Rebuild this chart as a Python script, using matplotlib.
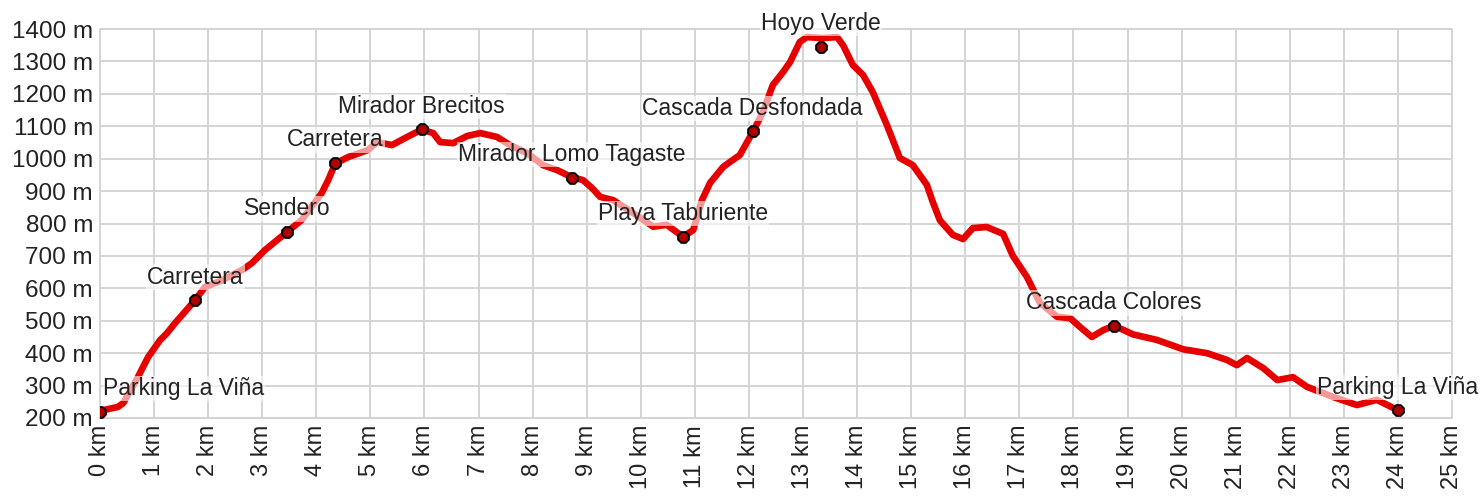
import matplotlib
matplotlib.use("Agg")
import matplotlib.pyplot as plt

plt.rcParams['font.family'] = ['Liberation Sans', 'DejaVu Sans']

# Elevation profile (km, m)
dist_km = [0.0, 0.33, 0.43, 0.70, 0.89, 1.11, 1.24, 1.39, 1.76, 1.94, 2.26, 2.63, 2.81,
           3.05, 3.46, 3.73, 4.10, 4.22, 4.35, 4.59, 4.96, 5.12, 5.40, 5.68, 5.95, 6.16,
           6.29, 6.53, 6.79, 7.03, 7.34, 7.58, 7.90, 8.19, 8.45, 8.72, 8.93, 9.10, 9.25,
           9.49, 9.86, 10.23, 10.48, 10.78, 10.97, 11.13, 11.28, 11.52, 11.65, 11.83,
           12.07, 12.26, 12.44, 12.63, 12.76, 12.94, 13.07, 13.35, 13.63, 13.74, 13.92,
           14.11, 14.29, 14.55, 14.79, 15.03, 15.29, 15.40, 15.53, 15.77, 15.96, 16.14,
           16.40, 16.70, 16.88, 17.14, 17.38, 17.70, 17.94, 18.12, 18.34, 18.55, 18.75,
           19.10, 19.54, 20.03, 20.47, 20.84, 21.02, 21.21, 21.51, 21.77, 22.06, 22.32,
           22.80, 23.24, 23.61, 24.0]
elev_m = [222, 234, 246, 326, 388, 440, 462, 493, 564, 604, 625, 657, 678,
          718, 774, 811, 894, 934, 985, 1005, 1027, 1051, 1042, 1067, 1090, 1079,
          1051, 1048, 1070, 1079, 1067, 1042, 1017, 980, 965, 943, 934, 909, 882,
          872, 832, 790, 796, 759, 780, 872, 925, 974, 990, 1011,
          1082, 1144, 1227, 1267, 1298, 1360, 1375, 1372, 1375, 1350, 1289,
          1258, 1205, 1104, 1002, 980, 919, 866, 810, 765, 752, 786,
          789, 768, 700, 635, 555, 512, 508, 481, 450, 471, 485,
          458, 441, 412, 400, 379, 363, 385, 354, 317, 326, 296,
          265, 240, 256, 224]

# Waypoints
wp_names = ["Parking La Viña", "Carretera", "Sendero", "Carretera", "Mirador Brecitos",
            "Mirador Lomo Tagaste", "Playa Taburiente", "Cascada Desfondada", "Hoyo Verde",
            "Cascada Colores", "Parking La Viña"]
wp_km = [0.0, 1.76, 3.46, 4.35, 5.95, 8.72, 10.78, 12.07, 13.33, 18.75, 24.0]
wp_elev = [220, 564, 774, 987, 1090, 941, 759, 1084, 1345, 484, 224]

x_ticks = list(range(0, 26))
x_labels = [f"{v} km" for v in x_ticks]
y_ticks = list(range(200, 1401, 100))
y_labels = [f"{v} m" for v in y_ticks]

fig = plt.figure(figsize=(14.83, 5.0), dpi=100)
ax = fig.add_axes([100/1483, 1 - 418/500, (1452-100)/1483, (418-29)/500])

ax.plot(dist_km, elev_m, color='#e60000', lw=4.8, solid_capstyle='round',
        solid_joinstyle='round', zorder=3)
ax.scatter(wp_km, wp_elev, s=70, marker='8', facecolor='#b00000', edgecolor='black',
           linewidths=1.4, zorder=5)

for i, (name, xk, ye) in enumerate(zip(wp_names, wp_km, wp_elev)):
    if i == 0:
        ax.annotate(name, (xk, ye), xytext=(3, 23), textcoords='offset pixels',
                    ha='left', va='center', fontsize=16.5, color='#222222', zorder=4,
                    bbox=dict(boxstyle='square,pad=0.05', fc='white', ec='none', alpha=0.6),
                    annotation_clip=False)
    else:
        ax.annotate(name, (xk, ye), xytext=(0, 23), textcoords='offset pixels',
                    ha='center', va='center', fontsize=16.5, color='#222222', zorder=4,
                    bbox=dict(boxstyle='square,pad=0.05', fc='white', ec='none', alpha=0.6),
                    annotation_clip=False)

ax.set_xlim(0, 25)
ax.set_ylim(200, 1400)
ax.set_xticks(x_ticks)
ax.set_xticklabels(x_labels, rotation=90, fontsize=17, color='#222222')
ax.set_yticks(y_ticks)
ax.set_yticklabels(y_labels, fontsize=17.5, color='#222222')
ax.tick_params(length=0, pad=5)
ax.grid(True, color='#d4d4d4', lw=1.4)
ax.set_axisbelow(True)
for s in ax.spines.values():
    s.set_color('#d4d4d4')
    s.set_linewidth(1.4)

fig.savefig('out.png', dpi=100)
